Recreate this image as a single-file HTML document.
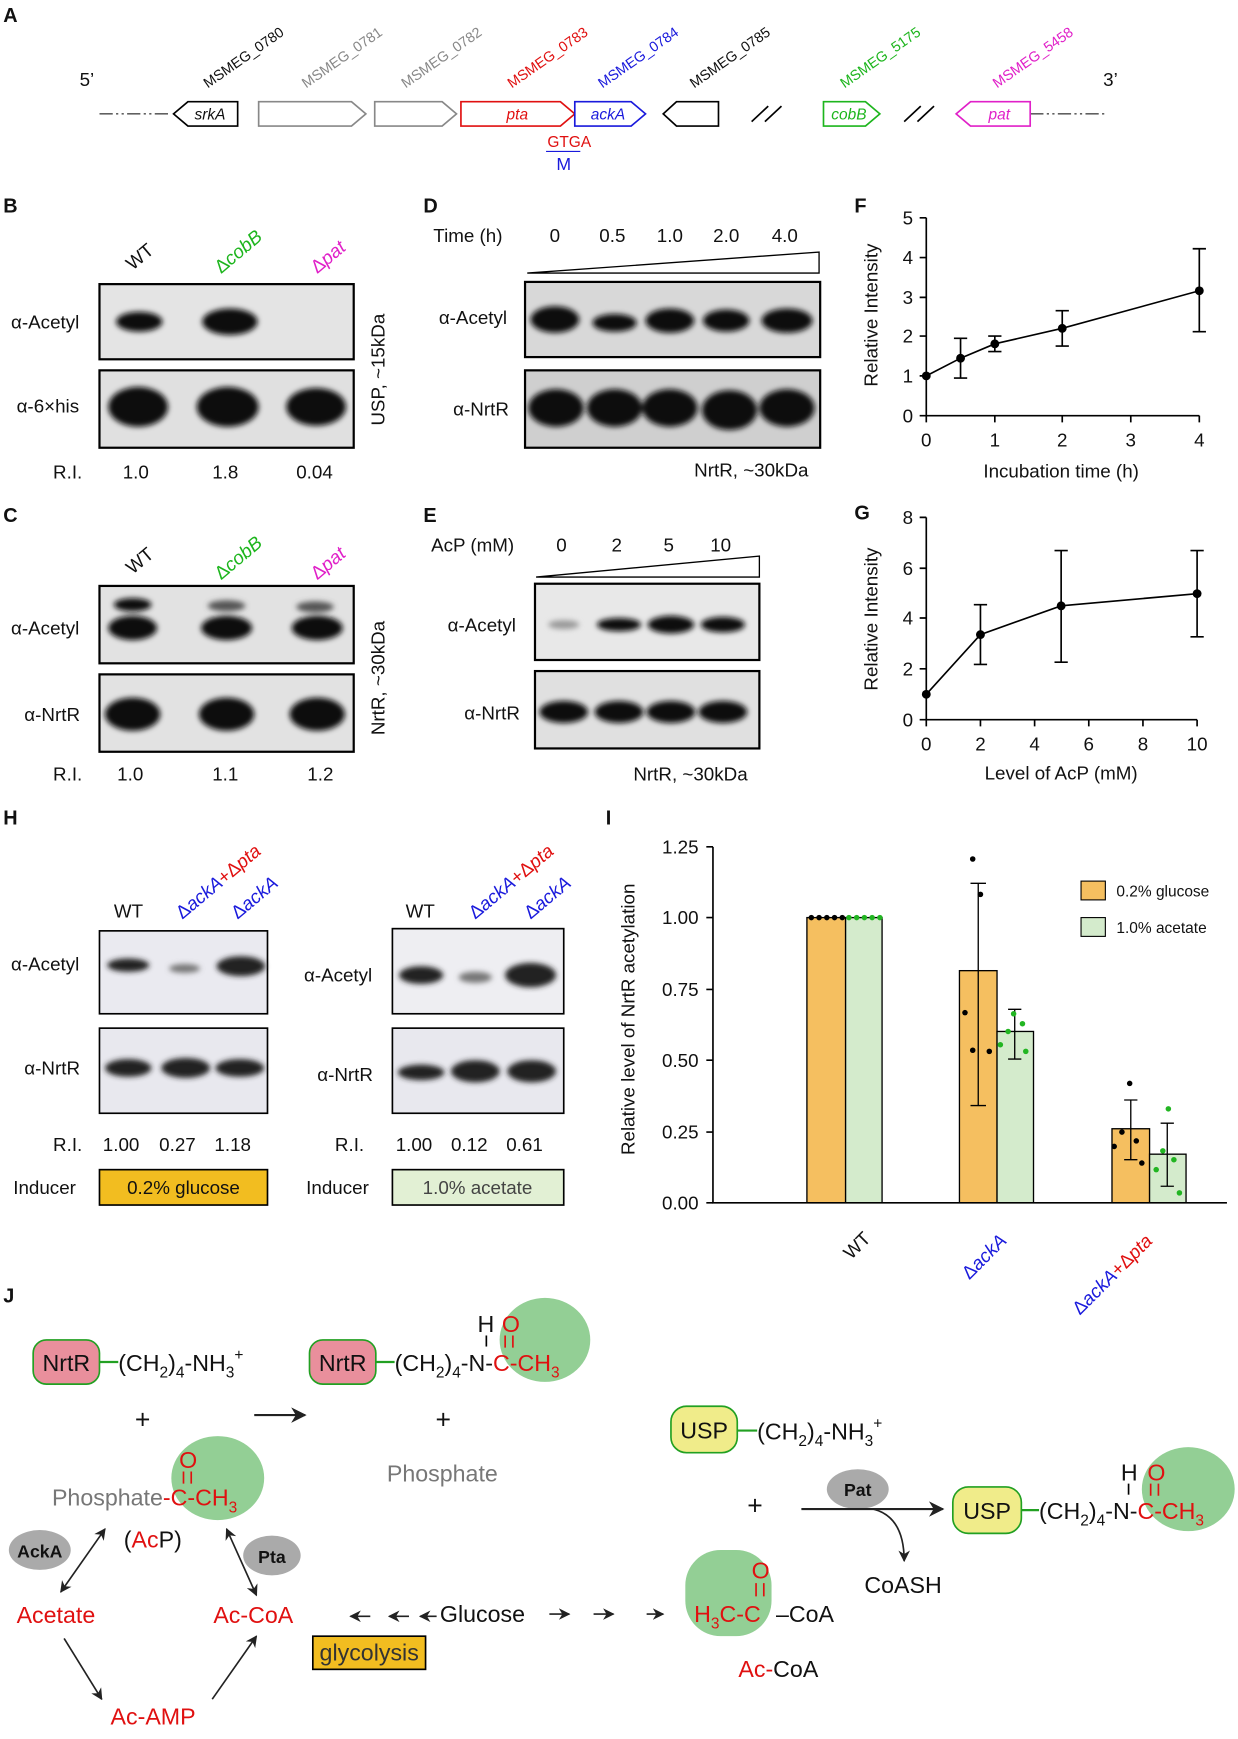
<!DOCTYPE html>
<html><head><meta charset="utf-8"><style>body{margin:0;background:#fff}svg{display:block}text{font-family:"Liberation Sans",Arial,sans-serif}</style></head><body>
<svg width="1238" height="1739" viewBox="0 0 1120 1573" preserveAspectRatio="none" xmlns="http://www.w3.org/2000/svg">
<defs>
<marker id="ah" viewBox="0 0 10 10" refX="9" refY="5" markerWidth="7" markerHeight="7" orient="auto-start-reverse"><path d="M0,0 L10,5 L0,10 L3,5z" fill="#222"/></marker>
<filter id="bl"><feGaussianBlur stdDeviation="2.5"/></filter>
</defs>
<g font-size="17" fill="#111">
<!-- Panel A -->
<text x="3" y="20" font-weight="bold" font-size="18">A</text>
<text x="72" y="78">5’</text><text x="998" y="78">3’</text>
<line x1="90" y1="103" x2="155" y2="103" stroke="#000" stroke-dasharray="12,3,2,3,2,3"/>
<line x1="932" y1="103" x2="1000" y2="103" stroke="#000" stroke-dasharray="12,3,2,3,2,3"/>
<g stroke-width="1.5" fill="#fff">
<path d="M170,92 H215 V114 H170 L157,103z" stroke="#000"/>
<path d="M234,92 H318 L331,103 L318,114 H234z" stroke="#888"/>
<path d="M339,92 H400 L413,103 L400,114 H339z" stroke="#888"/>
<path d="M417,92 H507 L520,103 L507,114 H417z" stroke="#e01010"/>
<path d="M520,92 H571 L584,103 L571,114 H520z" stroke="#1a1adc"/>
<path d="M612,92 H650 V114 H612 L600,103z" stroke="#000"/>
<path d="M745,92 H783 L796,103 L783,114 H745z" stroke="#1db51d"/>
<path d="M878,92 H932 V114 H878 L865,103z" stroke="#e020c8"/>
</g>
<g stroke="#000" stroke-width="1.5"><line x1="680" y1="110" x2="695" y2="96"/><line x1="692" y1="110" x2="707" y2="96"/><line x1="818" y1="110" x2="833" y2="96"/><line x1="830" y1="110" x2="845" y2="96"/></g>
<g font-style="italic" font-size="14" text-anchor="middle">
<text x="190" y="108">srkA</text><text x="468" y="108" fill="#e01010">pta</text><text x="550" y="108" fill="#1a1adc">ackA</text><text x="768" y="108" fill="#1db51d">cobB</text><text x="904" y="108" fill="#e020c8">pat</text></g>
<g font-size="13">
<text transform="translate(188,80) rotate(-35)">MSMEG_0780</text>
<text transform="translate(277,80) rotate(-35)" fill="#888">MSMEG_0781</text>
<text transform="translate(367,80) rotate(-35)" fill="#888">MSMEG_0782</text>
<text transform="translate(463,80) rotate(-35)" fill="#e01010">MSMEG_0783</text>
<text transform="translate(545,80) rotate(-35)" fill="#1a1adc">MSMEG_0784</text>
<text transform="translate(628,80) rotate(-35)">MSMEG_0785</text>
<text transform="translate(764,80) rotate(-35)" fill="#1db51d">MSMEG_5175</text>
<text transform="translate(902,80) rotate(-35)" fill="#e020c8">MSMEG_5458</text></g>
<text x="515" y="133" font-size="14" text-anchor="middle" fill="#e01010">GTGA</text>
<line x1="494" y1="137" x2="525" y2="137" stroke="#1a1adc"/>
<text x="510" y="154" font-size="16" text-anchor="middle" fill="#1a1adc">M</text>

<!-- Panel B -->
<text x="3" y="192" font-weight="bold" font-size="18">B</text>
<text transform="translate(120,245) rotate(-40)">WT</text>
<text transform="translate(200,248) rotate(-40)" fill="#1db51d">Δ<tspan font-style="italic">cobB</tspan></text>
<text transform="translate(287,248) rotate(-40)" fill="#e020c8">Δ<tspan font-style="italic">pat</tspan></text>
<rect x="90" y="257" width="230" height="68" fill="#e4e4e4" stroke="#000" stroke-width="2"/>
<rect x="90" y="335" width="230" height="70" fill="#e0e0e0" stroke="#000" stroke-width="2"/>
<g filter="url(#bl)" fill="#111">
<ellipse cx="126" cy="291" rx="21" ry="9"/><ellipse cx="208" cy="291" rx="25" ry="12"/>
<ellipse cx="125" cy="368" rx="27" ry="18"/><ellipse cx="206" cy="368" rx="28" ry="18"/><ellipse cx="286" cy="368" rx="27" ry="17"/></g>
<text x="10" y="297">α-Acetyl</text><text x="15" y="373">α-6×his</text>
<text transform="translate(348,385) rotate(-90)">USP, ~15kDa</text>
<text x="48" y="433">R.I.</text><text x="111" y="433">1.0</text><text x="192" y="433">1.8</text><text x="268" y="433">0.04</text>

<!-- Panel C -->
<text x="3" y="472" font-weight="bold" font-size="18">C</text>
<text transform="translate(120,520) rotate(-40)">WT</text>
<text transform="translate(200,525) rotate(-40)" fill="#1db51d">Δ<tspan font-style="italic">cobB</tspan></text>
<text transform="translate(287,525) rotate(-40)" fill="#e020c8">Δ<tspan font-style="italic">pat</tspan></text>
<rect x="90" y="530" width="230" height="70" fill="#e2e2e2" stroke="#000" stroke-width="2"/>
<rect x="90" y="610" width="230" height="70" fill="#e2e2e2" stroke="#000" stroke-width="2"/>
<g filter="url(#bl)" fill="#111">
<ellipse cx="120" cy="547" rx="17" ry="6"/><ellipse cx="205" cy="548" rx="17" ry="5" fill="#555"/><ellipse cx="285" cy="549" rx="17" ry="5" fill="#555"/>
<ellipse cx="120" cy="568" rx="22" ry="11"/><ellipse cx="205" cy="568" rx="23" ry="11"/><ellipse cx="287" cy="568" rx="23" ry="11"/>
<ellipse cx="120" cy="646" rx="25" ry="15"/><ellipse cx="205" cy="646" rx="25" ry="15"/><ellipse cx="287" cy="646" rx="25" ry="15"/></g>
<text x="10" y="574">α-Acetyl</text><text x="22" y="652">α-NrtR</text>
<text transform="translate(348,665) rotate(-90)">NrtR, ~30kDa</text>
<text x="48" y="706">R.I.</text><text x="106" y="706">1.0</text><text x="192" y="706">1.1</text><text x="278" y="706">1.2</text>

<!-- Panel D -->
<text x="383" y="192" font-weight="bold" font-size="18">D</text>
<text x="392" y="219">Time (h)</text>
<g text-anchor="middle"><text x="502" y="219">0</text><text x="554" y="219">0.5</text><text x="606" y="219">1.0</text><text x="657" y="219">2.0</text><text x="710" y="219">4.0</text></g>
<path d="M477,247 L741,228 L741,247z" fill="#fff" stroke="#000" stroke-width="1.2"/>
<rect x="475" y="255" width="267" height="68" fill="#d8d8d8" stroke="#000" stroke-width="2"/>
<rect x="475" y="335" width="267" height="70" fill="#cfcfcf" stroke="#000" stroke-width="2"/>
<g filter="url(#bl)" fill="#111">
<ellipse cx="502" cy="289" rx="22" ry="12"/><ellipse cx="556" cy="292" rx="20" ry="8"/><ellipse cx="606" cy="290" rx="22" ry="11"/><ellipse cx="657" cy="290" rx="21" ry="10"/><ellipse cx="712" cy="290" rx="23" ry="11"/>
<ellipse cx="503" cy="369" rx="25" ry="17"/><ellipse cx="556" cy="369" rx="25" ry="17"/><ellipse cx="606" cy="369" rx="25" ry="17"/><ellipse cx="660" cy="371" rx="25" ry="18"/><ellipse cx="712" cy="369" rx="25" ry="17"/></g>
<text x="397" y="293">α-Acetyl</text><text x="410" y="376">α-NrtR</text>
<text x="628" y="431">NrtR, ~30kDa</text>

<!-- Panel E -->
<text x="383" y="472" font-weight="bold" font-size="18">E</text>
<text x="390" y="499">AcP (mM)</text>
<g text-anchor="middle"><text x="508" y="499">0</text><text x="558" y="499">2</text><text x="605" y="499">5</text><text x="652" y="499">10</text></g>
<path d="M485,522 L687,503 L687,522z" fill="#fff" stroke="#000" stroke-width="1.2"/>
<rect x="484" y="528" width="203" height="69" fill="#e8e8e8" stroke="#000" stroke-width="2"/>
<rect x="484" y="607" width="203" height="70" fill="#e0e0e0" stroke="#000" stroke-width="2"/>
<g filter="url(#bl)" fill="#111">
<ellipse cx="510" cy="565" rx="14" ry="4" fill="#999"/><ellipse cx="560" cy="565" rx="20" ry="6"/><ellipse cx="607" cy="565" rx="21" ry="8"/><ellipse cx="654" cy="565" rx="20" ry="7"/>
<ellipse cx="510" cy="644" rx="22" ry="10"/><ellipse cx="560" cy="644" rx="22" ry="10"/><ellipse cx="607" cy="644" rx="22" ry="10"/><ellipse cx="654" cy="644" rx="22" ry="10"/></g>
<text x="405" y="571">α-Acetyl</text><text x="420" y="651">α-NrtR</text>
<text x="573" y="706">NrtR, ~30kDa</text>

<!-- Panel F -->
<text x="773" y="192" font-weight="bold" font-size="18">F</text>
<g stroke="#000" stroke-width="1.5" fill="none">
<path d="M838,197 V376 H1085"/>
<path d="M832,197H838M832,233H838M832,269H838M832,304H838M832,340H838M832,376H838"/>
<path d="M838,376v6M900,376v6M961,376v6M1023,376v6M1085,376v6"/>
<polyline points="838,340 869,324 900,311 961,297 1085,263"/>
<path d="M869,342V306M863,342h12M863,306h12M900,318V304M894,318h12M894,304h12M961,313V281M955,313h12M955,281h12M1085,300V225M1079,300h12M1079,225h12"/>
</g>
<g fill="#000"><circle cx="838" cy="340" r="4"/><circle cx="869" cy="324" r="4"/><circle cx="900" cy="311" r="4"/><circle cx="961" cy="297" r="4"/><circle cx="1085" cy="263" r="4"/></g>
<g text-anchor="end"><text x="826" y="203">5</text><text x="826" y="239">4</text><text x="826" y="275">3</text><text x="826" y="310">2</text><text x="826" y="346">1</text><text x="826" y="382">0</text></g>
<g text-anchor="middle"><text x="838" y="404">0</text><text x="900" y="404">1</text><text x="961" y="404">2</text><text x="1023" y="404">3</text><text x="1085" y="404">4</text>
<text x="960" y="432">Incubation time (h)</text>
<text transform="translate(794,285) rotate(-90)">Relative Intensity</text></g>

<!-- Panel G -->
<text x="773" y="470" font-weight="bold" font-size="18">G</text>
<g stroke="#000" stroke-width="1.5" fill="none">
<path d="M838,468 V651 H1083"/>
<path d="M832,468H838M832,514H838M832,559H838M832,605H838M832,651H838"/>
<path d="M838,651v6M887,651v6M936,651v6M985,651v6M1034,651v6M1083,651v6"/>
<polyline points="838,628 887,574 960,548 1083,537"/>
<path d="M887,601V547M881,601h12M881,547h12M960,599V498M954,599h12M954,498h12M1083,576V498M1077,576h12M1077,498h12"/>
</g>
<g fill="#000"><circle cx="838" cy="628" r="4"/><circle cx="887" cy="574" r="4"/><circle cx="960" cy="548" r="4"/><circle cx="1083" cy="537" r="4"/></g>
<g text-anchor="end"><text x="826" y="474">8</text><text x="826" y="520">6</text><text x="826" y="565">4</text><text x="826" y="611">2</text><text x="826" y="657">0</text></g>
<g text-anchor="middle"><text x="838" y="679">0</text><text x="887" y="679">2</text><text x="936" y="679">4</text><text x="985" y="679">6</text><text x="1034" y="679">8</text><text x="1083" y="679">10</text>
<text x="960" y="705">Level of AcP (mM)</text>
<text transform="translate(794,560) rotate(-90)">Relative Intensity</text></g>

<!-- Panel H -->
<text x="3" y="746" font-weight="bold" font-size="18">H</text>
<text x="103" y="830">WT</text>
<text transform="translate(165,832) rotate(-40)"><tspan fill="#1a1adc">Δ<tspan font-style="italic">ackA</tspan></tspan><tspan fill="#e01010">+Δ<tspan font-style="italic">pta</tspan></tspan></text>
<text transform="translate(215,832) rotate(-40)" fill="#1a1adc">Δ<tspan font-style="italic">ackA</tspan></text>
<text x="367" y="830">WT</text>
<text transform="translate(430,832) rotate(-40)"><tspan fill="#1a1adc">Δ<tspan font-style="italic">ackA</tspan></tspan><tspan fill="#e01010">+Δ<tspan font-style="italic">pta</tspan></tspan></text>
<text transform="translate(480,832) rotate(-40)" fill="#1a1adc">Δ<tspan font-style="italic">ackA</tspan></text>
<rect x="90" y="842" width="152" height="75" fill="#eaeaf0" stroke="#000" stroke-width="1.5"/>
<rect x="90" y="930" width="152" height="77" fill="#e8e8ee" stroke="#000" stroke-width="1.5"/>
<rect x="355" y="840" width="155" height="77" fill="#eeeef2" stroke="#000" stroke-width="1.5"/>
<rect x="355" y="930" width="155" height="77" fill="#e8e8ee" stroke="#000" stroke-width="1.5"/>
<g filter="url(#bl)" fill="#222">
<ellipse cx="116" cy="873" rx="19" ry="6"/><ellipse cx="167" cy="876" rx="14" ry="4" fill="#777"/><ellipse cx="218" cy="874" rx="22" ry="9"/>
<ellipse cx="116" cy="966" rx="21" ry="8"/><ellipse cx="168" cy="966" rx="22" ry="9"/><ellipse cx="217" cy="966" rx="22" ry="8"/>
<ellipse cx="381" cy="882" rx="20" ry="8"/><ellipse cx="430" cy="884" rx="15" ry="5" fill="#777"/><ellipse cx="480" cy="882" rx="23" ry="11"/>
<ellipse cx="381" cy="970" rx="21" ry="7"/><ellipse cx="430" cy="969" rx="22" ry="10"/><ellipse cx="481" cy="969" rx="22" ry="10"/></g>
<text x="10" y="878">α-Acetyl</text><text x="22" y="972">α-NrtR</text>
<text x="275" y="888">α-Acetyl</text><text x="287" y="978">α-NrtR</text>
<text x="48" y="1041">R.I.</text><text x="93" y="1041">1.00</text><text x="144" y="1041">0.27</text><text x="194" y="1041">1.18</text>
<text x="303" y="1041">R.I.</text><text x="358" y="1041">1.00</text><text x="408" y="1041">0.12</text><text x="458" y="1041">0.61</text>
<text x="12" y="1080">Inducer</text><text x="277" y="1080">Inducer</text>
<rect x="90" y="1058" width="152" height="32" fill="#f2bd20" stroke="#000" stroke-width="1.5"/>
<rect x="355" y="1058" width="155" height="32" fill="#e2f0d4" stroke="#000" stroke-width="1.5"/>
<text x="166" y="1080" text-anchor="middle">0.2% glucose</text><text x="432" y="1080" text-anchor="middle" fill="#444">1.0% acetate</text>

<!-- Panel I -->
<text x="548" y="746" font-weight="bold" font-size="18">I</text>
<g stroke="#000" stroke-width="1.2">
<rect x="730" y="830" width="35" height="258" fill="#f5bf60"/><rect x="765" y="830" width="33" height="258" fill="#d4ebcc"/>
<rect x="868" y="878" width="34" height="210" fill="#f5bf60"/><rect x="902" y="933" width="33" height="155" fill="#d4ebcc"/>
<rect x="1006" y="1021" width="34" height="67" fill="#f5bf60"/><rect x="1040" y="1044" width="33" height="44" fill="#d4ebcc"/>
<path fill="none" d="M885,1000V799M878,1000h14M878,799h14M918,958V913M912,958h12M912,913h12M1023,1049V995M1017,1049h12M1017,995h12M1056,1073V1016M1050,1073h12M1050,1016h12"/>
</g>
<g stroke="#000" stroke-width="1.5" fill="none">
<path d="M645,766V1088H1110"/>
<path d="M639,766h6M639,830h6M639,895h6M639,959h6M639,1024h6M639,1088h6"/>
</g>
<g text-anchor="end"><text x="632" y="772">1.25</text><text x="632" y="836">1.00</text><text x="632" y="901">0.75</text><text x="632" y="965">0.50</text><text x="632" y="1030">0.25</text><text x="632" y="1094">0.00</text></g>
<text transform="translate(574,922) rotate(-90)" text-anchor="middle">Relative level of NrtR acetylation</text>
<g fill="#000"><circle cx="734" cy="830" r="2.5"/><circle cx="741" cy="830" r="2.5"/><circle cx="748" cy="830" r="2.5"/><circle cx="755" cy="830" r="2.5"/><circle cx="762" cy="830" r="2.5"/>
<circle cx="880" cy="777" r="2.5"/><circle cx="887" cy="809" r="2.5"/><circle cx="873" cy="916" r="2.5"/><circle cx="880" cy="950" r="2.5"/><circle cx="895" cy="951" r="2.5"/>
<circle cx="1022" cy="980" r="2.5"/><circle cx="1015" cy="1024" r="2.5"/><circle cx="1028" cy="1032" r="2.5"/><circle cx="1008" cy="1037" r="2.5"/><circle cx="1033" cy="1052" r="2.5"/></g>
<g fill="#22b522"><circle cx="768" cy="830" r="2.5"/><circle cx="775" cy="830" r="2.5"/><circle cx="782" cy="830" r="2.5"/><circle cx="789" cy="830" r="2.5"/><circle cx="796" cy="830" r="2.5"/>
<circle cx="917" cy="917" r="2.5"/><circle cx="925" cy="926" r="2.5"/><circle cx="912" cy="933" r="2.5"/><circle cx="905" cy="945" r="2.5"/><circle cx="928" cy="951" r="2.5"/>
<circle cx="1057" cy="1003" r="2.5"/><circle cx="1052" cy="1041" r="2.5"/><circle cx="1062" cy="1049" r="2.5"/><circle cx="1046" cy="1058" r="2.5"/><circle cx="1067" cy="1079" r="2.5"/></g>
<rect x="978" y="797" width="22" height="17" fill="#f5bf60" stroke="#000"/><text x="1010" y="811" font-size="14">0.2% glucose</text>
<rect x="978" y="830" width="22" height="17" fill="#d4ebcc" stroke="#000"/><text x="1010" y="844" font-size="14">1.0% acetate</text>
<text transform="translate(770,1140) rotate(-45)">WT</text>
<text transform="translate(877,1158) rotate(-45)" fill="#1a1adc">Δ<tspan font-style="italic">ackA</tspan></text>
<text transform="translate(977,1190) rotate(-45)"><tspan fill="#1a1adc">Δ<tspan font-style="italic">ackA</tspan></tspan><tspan fill="#e01010">+Δ<tspan font-style="italic">pta</tspan></tspan></text>

<!-- Panel J -->
<text x="3" y="1178" font-weight="bold" font-size="18">J</text>
<g font-size="21">
<rect x="30" y="1212" width="60" height="40" rx="12" fill="#e98f9c" stroke="#22a022" stroke-width="1.5"/>
<text x="60" y="1240" text-anchor="middle">NrtR</text><line x1="90" y1="1232" x2="107" y2="1232" stroke="#22a022" stroke-width="2"/>
<text x="107" y="1240">(CH<tspan font-size="14" dy="6">2</tspan><tspan dy="-6">)</tspan><tspan font-size="14" dy="6">4</tspan><tspan dy="-6">-NH</tspan><tspan font-size="14" dy="6">3</tspan><tspan font-size="14" dy="-16">+</tspan></text>
<ellipse cx="493" cy="1212" rx="41" ry="38" fill="#93cf95"/>
<rect x="280" y="1212" width="60" height="40" rx="12" fill="#e98f9c" stroke="#22a022" stroke-width="1.5"/>
<text x="310" y="1240" text-anchor="middle">NrtR</text><line x1="340" y1="1232" x2="357" y2="1232" stroke="#22a022" stroke-width="2"/>
<text x="357" y="1240">(CH<tspan font-size="14" dy="6">2</tspan><tspan dy="-6">)</tspan><tspan font-size="14" dy="6">4</tspan><tspan dy="-6">-N-</tspan><tspan fill="#e01010">C-CH</tspan><tspan fill="#e01010" font-size="14" dy="6">3</tspan></text>
<text x="432" y="1205">H</text><line x1="440" y1="1208" x2="440" y2="1218" stroke="#000" stroke-width="1.5"/>
<text x="454" y="1205" fill="#e01010">O</text><path d="M457,1208V1219M464,1208V1219" stroke="#e01010" stroke-width="1.5"/>
<text x="122" y="1292" font-size="24">+</text><text x="394" y="1292" font-size="24">+</text>
<line x1="230" y1="1280" x2="276" y2="1280" stroke="#222" stroke-width="2" marker-end="url(#ah)"/>
<text x="350" y="1340" fill="#777">Phosphate</text>
<ellipse cx="197" cy="1337" rx="42" ry="38" fill="#93cf95"/>
<text x="47" y="1362" fill="#777">Phosphate<tspan fill="#e01010">-C-CH</tspan><tspan fill="#e01010" font-size="14" dy="6">3</tspan></text>
<text x="162" y="1328" fill="#e01010">O</text><path d="M166,1331V1342M173,1331V1342" stroke="#e01010" stroke-width="1.5"/>
<text x="112" y="1400">(<tspan fill="#e01010">Ac</tspan>P)</text>
<ellipse cx="36" cy="1402" rx="28" ry="18" fill="#aaa"/><text x="36" y="1409" text-anchor="middle" font-size="16" font-weight="bold">AckA</text>
<ellipse cx="246" cy="1407" rx="26" ry="18" fill="#aaa"/><text x="246" y="1414" text-anchor="middle" font-size="16" font-weight="bold">Pta</text>
<g stroke="#222" stroke-width="1.5" marker-end="url(#ah)" marker-start="url(#ah)">
<line x1="55" y1="1440" x2="95" y2="1383"/><line x1="205" y1="1383" x2="232" y2="1443"/></g>
<g stroke="#222" stroke-width="1.5" marker-end="url(#ah)">
<line x1="58" y1="1482" x2="92" y2="1537"/><line x1="192" y1="1537" x2="232" y2="1480"/>
<line x1="335" y1="1462" x2="317" y2="1462"/><line x1="370" y1="1462" x2="352" y2="1462"/><line x1="395" y1="1462" x2="380" y2="1462"/>
<line x1="497" y1="1460" x2="515" y2="1460"/><line x1="537" y1="1460" x2="555" y2="1460"/><line x1="585" y1="1460" x2="600" y2="1460"/></g>
<text x="15" y="1468" fill="#e01010">Acetate</text><text x="193" y="1468" fill="#e01010">Ac-CoA</text>
<text x="100" y="1560" fill="#e01010">Ac-AMP</text>
<text x="398" y="1467">Glucose</text>
<rect x="283" y="1480" width="102" height="30" fill="#f2bd20" stroke="#000" stroke-width="1.5"/><text x="334" y="1502" text-anchor="middle" fill="#333">glycolysis</text>
<rect x="620" y="1402" width="78" height="78" rx="32" fill="#93cf95"/>
<text x="628" y="1467" fill="#e01010">H<tspan font-size="14" dy="6">3</tspan><tspan dy="-6">C-C</tspan></text>
<text x="680" y="1428" fill="#e01010">O</text><path d="M684,1432V1444M691,1432V1444" stroke="#e01010" stroke-width="1.5"/>
<text x="702" y="1467">–CoA</text>
<text x="668" y="1517"><tspan fill="#e01010">Ac-</tspan>CoA</text>
<rect x="607" y="1272" width="60" height="42" rx="14" fill="#f0ec8a" stroke="#22a022" stroke-width="1.5"/>
<text x="637" y="1301" text-anchor="middle">USP</text><line x1="667" y1="1294" x2="685" y2="1294" stroke="#22a022" stroke-width="2"/>
<text x="685" y="1302">(CH<tspan font-size="14" dy="6">2</tspan><tspan dy="-6">)</tspan><tspan font-size="14" dy="6">4</tspan><tspan dy="-6">-NH</tspan><tspan font-size="14" dy="6">3</tspan><tspan font-size="14" dy="-16">+</tspan></text>
<text x="676" y="1370" font-size="24">+</text>
<ellipse cx="776" cy="1347" rx="28" ry="18" fill="#aaa"/><text x="776" y="1353" text-anchor="middle" font-size="16" font-weight="bold">Pat</text>
<line x1="725" y1="1365" x2="853" y2="1365" stroke="#222" stroke-width="2" marker-end="url(#ah)"/>
<path d="M790,1365 Q818,1372 818,1412" stroke="#222" stroke-width="1.5" fill="none" marker-end="url(#ah)"/>
<text x="782" y="1441">CoASH</text>
<ellipse cx="1075" cy="1347" rx="42" ry="38" fill="#93cf95"/>
<rect x="862" y="1345" width="62" height="42" rx="14" fill="#f0ec8a" stroke="#22a022" stroke-width="1.5"/>
<text x="893" y="1374" text-anchor="middle">USP</text><line x1="924" y1="1366" x2="940" y2="1366" stroke="#22a022" stroke-width="2"/>
<text x="940" y="1374">(CH<tspan font-size="14" dy="6">2</tspan><tspan dy="-6">)</tspan><tspan font-size="14" dy="6">4</tspan><tspan dy="-6">-N-</tspan><tspan fill="#e01010">C-CH</tspan><tspan fill="#e01010" font-size="14" dy="6">3</tspan></text>
<text x="1014" y="1339">H</text><line x1="1021" y1="1342" x2="1021" y2="1352" stroke="#000" stroke-width="1.5"/>
<text x="1038" y="1339" fill="#e01010">O</text><path d="M1041,1342V1353M1048,1342V1353" stroke="#e01010" stroke-width="1.5"/>
</g>
</g>
</svg>
</body></html>
